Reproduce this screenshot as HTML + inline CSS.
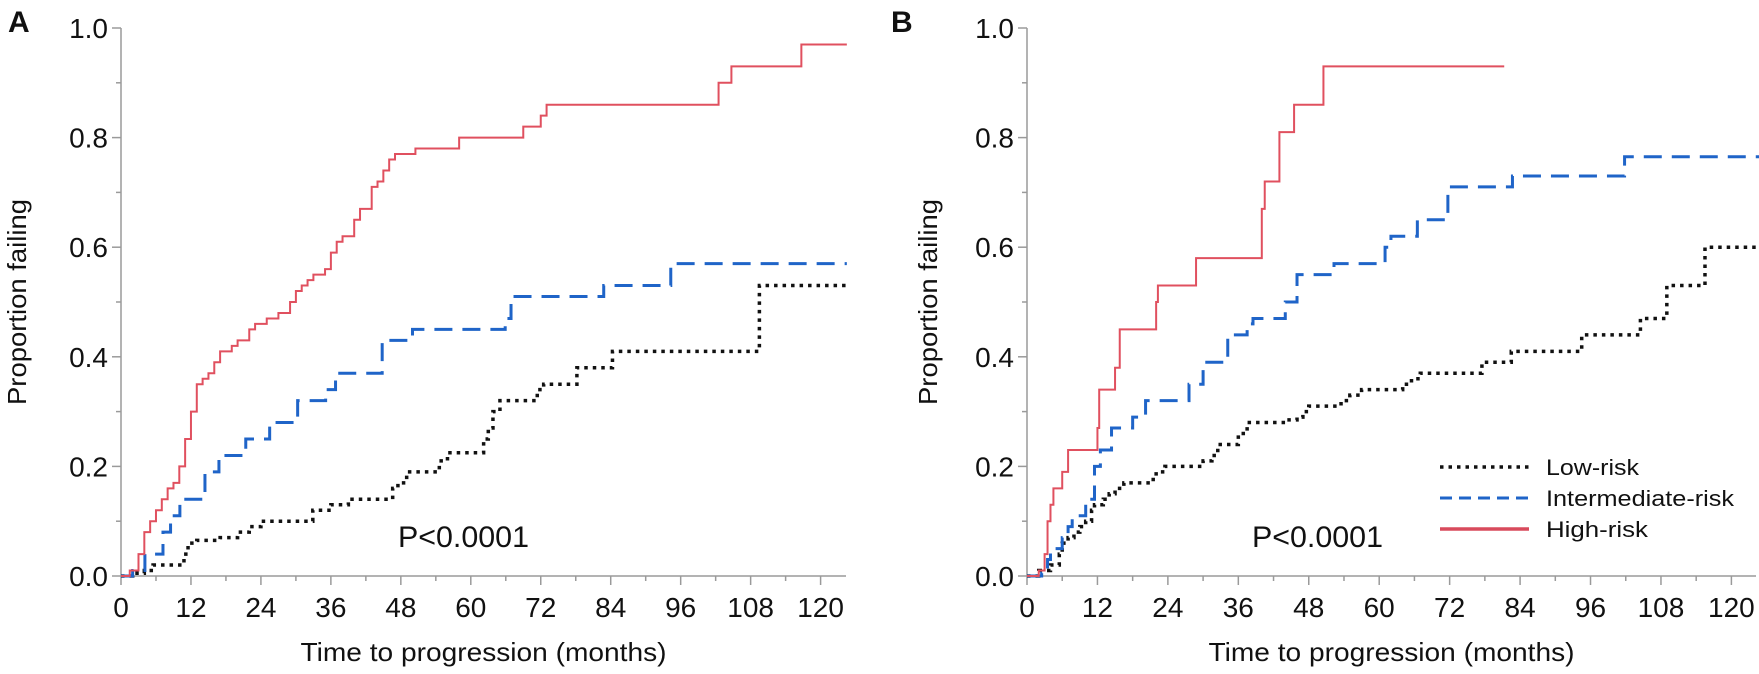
<!DOCTYPE html>
<html><head><meta charset="utf-8"><style>
html,body{margin:0;padding:0;background:#fff;}
svg text{font-family:"Liberation Sans",sans-serif;fill:#111;}
</style></head><body>
<svg id="chart" width="1759" height="669" viewBox="0 0 1759 669" xmlns="http://www.w3.org/2000/svg"></svg>
<script>
const xTicks=[0,12,24,36,48,60,72,84,96,108,120];
const yTicks=[0,0.2,0.4,0.6,0.8,1.0];
const yTickLabels=["0.0","0.2","0.4","0.6","0.8","1.0"];
// Panel A series: [month, proportion]
const aHighT=[0,1.5,3,4,5,6,7,8,9,10,11,12,13,14,15,16,17,19,20,22,23,25,27,29,30,31,32,33,35,36,37,38,40,41,43,44,45,46,47,50.5,58,69,72,73,102.5,104.7,116.7];
const aHighV=[0,0.01,0.04,0.08,0.1,0.12,0.14,0.16,0.17,0.2,0.25,0.3,0.35,0.36,0.37,0.39,0.41,0.42,0.43,0.45,0.46,0.47,0.48,0.5,0.52,0.53,0.54,0.55,0.56,0.59,0.61,0.62,0.65,0.67,0.71,0.72,0.74,0.76,0.77,0.78,0.8,0.82,0.84,0.86,0.9,0.93,0.97];
const aIntT=[0,2,4.1,7.2,8.5,10.1,14.4,16.8,21.4,25.5,30.3,35.1,36.8,44.8,50,61.6,65.9,66.9,82.8,94.3];
const aIntV=[0,0.01,0.04,0.08,0.11,0.14,0.19,0.22,0.25,0.28,0.32,0.34,0.37,0.43,0.45,0.45,0.47,0.51,0.53,0.57];
const aLowT=[0,2,4,5.5,10.8,11.5,13,17,20,22,24,32.9,36,39,46.6,47.5,49,54.6,56,62.2,63,63.8,65,71.4,72.5,78.2,84.3,109.5];
const aLowV=[0,0.005,0.01,0.02,0.04,0.06,0.065,0.07,0.08,0.09,0.1,0.12,0.13,0.14,0.16,0.17,0.19,0.21,0.225,0.25,0.27,0.3,0.32,0.34,0.35,0.38,0.41,0.53];
// Panel B series
const bHighT=[0,2,3,3.5,4,4.5,6,7,12,12.3,15,15.8,22,22.3,28.8,40,40.5,43,45.5,50.5];
const bHighV=[0,0.01,0.04,0.1,0.13,0.16,0.19,0.23,0.27,0.34,0.38,0.45,0.5,0.53,0.58,0.67,0.72,0.81,0.86,0.93];
const bIntT=[0,2.5,3.5,4,6,7,7.7,10,11.5,12.5,14.4,18,20.2,27.6,30,34.2,37.5,38.5,44,46,52.3,61,62,66.5,71.7,82.7,101.8];
const bIntV=[0,0.005,0.03,0.05,0.07,0.09,0.11,0.14,0.2,0.23,0.27,0.29,0.32,0.35,0.39,0.44,0.46,0.47,0.5,0.55,0.57,0.6,0.62,0.65,0.71,0.73,0.765];
const bLowT=[0,2,4,5.5,6,7,8,9,10,11,11.5,13,14,15,16.5,21.5,22,23.5,30,31.5,32.5,36,37.5,44,46,47,48,53.5,55,57,64,65.5,67,77.5,82.5,94.5,104.5,109,115.5];
const bLowV=[0,0.01,0.02,0.04,0.06,0.07,0.08,0.09,0.1,0.12,0.13,0.14,0.15,0.16,0.17,0.18,0.19,0.2,0.21,0.22,0.24,0.26,0.28,0.285,0.29,0.3,0.31,0.32,0.33,0.34,0.35,0.36,0.37,0.39,0.41,0.44,0.47,0.53,0.6];

const NS="http://www.w3.org/2000/svg";
const svg=document.getElementById('chart');
function mk(tag,attrs,parent,txt){const e=document.createElementNS(NS,tag);for(const k in attrs)e.setAttribute(k,attrs[k]);if(txt!==undefined)e.textContent=txt;(parent||svg).appendChild(e);return e;}

function panel(p){
  const g=mk('g',{});
  
  
  const x=t=>p.x0+t*p.pxPerMonth;
  const y=v=>p.y0-v*(p.y0-p.y1);
  const L=mk('text',{x:p.lx,y:32,'font-size':30,'font-weight':'bold'},g,p.label);
  
  
  const ax=mk('line',{x1:x(0),y1:p.y0,x2:p.axEnd,y2:p.y0,stroke:'#9a9a9a','stroke-width':1.5},g);
  
  
  const ay=mk('line',{x1:x(0),y1:p.y0,x2:x(0),y2:p.y1,stroke:'#9a9a9a','stroke-width':1.5},g);
  
  
  for(let m=0;m<=120;m+=6){
    const major=m%12===0;
    mk('line',{x1:x(m),y1:p.y0,x2:x(m),y2:p.y0+(major?9:5),stroke:'#9a9a9a','stroke-width':1.5},g);
  }
  xTicks.forEach(t=>{
    const tx=mk('text',{x:x(t),y:p.y0+41,'font-size':28,'text-anchor':'middle'},g,String(t));
    
    
  });
  for(let i=0;i<=10;i++){
    const v=i/10;const major=i%2===0;
    mk('line',{x1:x(0),y1:y(v),x2:x(0)-(major?9:5),y2:y(v),stroke:'#9a9a9a','stroke-width':1.5},g);
  }
  yTicks.forEach((v,i)=>{
    const ty=mk('text',{x:x(0)-13,y:y(v)+10,'font-size':28,'text-anchor':'end'},g,yTickLabels[i]);
    
    
  });
  const xt=mk('text',{x:(x(0)+p.axEnd)/2,y:661,'font-size':26,'text-anchor':'middle',textLength:366,lengthAdjust:'spacingAndGlyphs'},g,'Time to progression (months)');
  
  
  const yt=mk('text',{x:0,y:0,'font-size':26,'text-anchor':'middle',transform:`translate(${p.ytx},${(p.y0+p.y1)/2}) rotate(-90)`,textLength:206,lengthAdjust:'spacingAndGlyphs'},g,'Proportion failing');
  
  
  const pv=mk('text',{x:p.px,y:547,'font-size':30,textLength:131,lengthAdjust:'spacingAndGlyphs'},g,'P<0.0001');
  
  
  function step(T,V,end,style,name){
    let d=`M${x(T[0])},${y(V[0])}`;
    for(let i=1;i<T.length;i++){d+=` H${x(T[i])} V${y(V[i])}`;}
    d+=` H${x(end)}`;
    const path=mk('path',Object.assign({d:d,fill:'none'},style),g);
    
    
  }
  step(p.lowT,p.lowV,p.lowEnd,{stroke:'#111','stroke-width':3.5,'stroke-dasharray':'3.5 5'},'low-risk-curve');
  step(p.intT,p.intV,p.intEnd,{stroke:'#1f64c8','stroke-width':3,'stroke-dasharray':'18 10'},'intermediate-risk-curve');
  step(p.highT,p.highV,p.highEnd,{stroke:'#e0505f','stroke-width':2},'high-risk-curve');
  return g;
}
panel({id:'a',label:'A',lx:8,x0:121,pxPerMonth:5.83,y0:576,y1:28,axEnd:846,ytx:26,px:398,
  lowT:aLowT,lowV:aLowV,lowEnd:124.5,intT:aIntT,intV:aIntV,intEnd:124.5,highT:aHighT,highV:aHighV,highEnd:124.5});
panel({id:'b',label:'B',lx:891,x0:1027,pxPerMonth:5.87,y0:576,y1:28,axEnd:1756,ytx:937,px:1252,
  lowT:bLowT,lowV:bLowV,lowEnd:125,intT:bIntT,intV:bIntV,intEnd:125,highT:bHighT,highV:bHighV,highEnd:81.3});
const lg=mk('g',{});


const legNames=['Low-risk','Intermediate-risk','High-risk'];
const legWidths=[93,188,102];
const legStyles=[{stroke:'#111','stroke-width':3.5,'stroke-dasharray':'3.5 5'},{stroke:'#1f64c8','stroke-width':3,'stroke-dasharray':'12 7'},{stroke:'#d84a5c','stroke-width':3.5}];
const legY=[467,498,529];
legNames.forEach((n,i)=>{
  const e=mk('g',{},lg);
  
  
  mk('line',Object.assign({x1:1440,y1:legY[i],x2:1529,y2:legY[i]},legStyles[i]),e);
  mk('text',{x:1546,y:legY[i]+8,'font-size':22,textLength:legWidths[i],lengthAdjust:'spacingAndGlyphs'},e,n);
});
</script>
</body></html>
